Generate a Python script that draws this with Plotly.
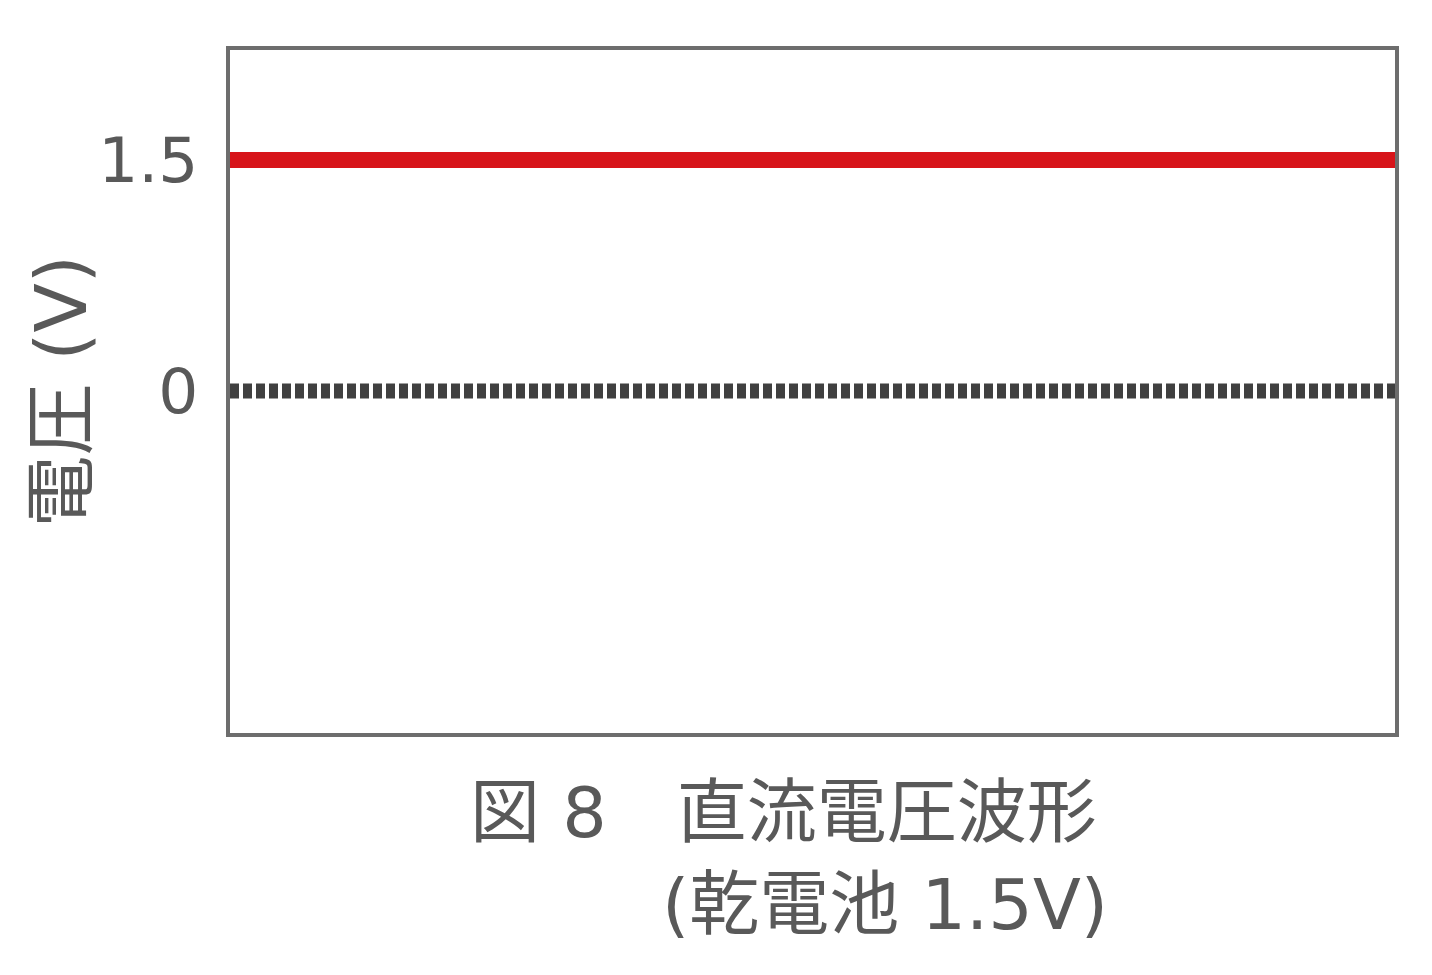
import plotly.graph_objects as go

# time axis (arbitrary units, no ticks shown)
t = [0, 10]
# dry cell output and the zero reference
dc_voltage = [1.5, 1.5]
zero_line = [0, 0]

y_ticks = [0, 1.5]
y_tick_text = ["0", "1.5"]

FONT = "DejaVu Sans, Noto Sans CJK JP"
GREY = "#595959"

fig = go.Figure()

fig.add_trace(go.Scatter(
    x=t, y=zero_line, mode="lines",
    line=dict(color="#404040", width=15, dash="9px,4px"),
    hoverinfo="skip",
))
fig.add_trace(go.Scatter(
    x=t, y=dc_voltage, mode="lines",
    line=dict(color="#D7141A", width=16),
))

fig.update_xaxes(
    range=[0, 10], showticklabels=False, showgrid=False, zeroline=False,
    showline=True, linecolor="#6d6d6d", linewidth=4, mirror=True,
)
fig.update_yaxes(
    range=[-2.221, 2.214], tickvals=y_ticks, ticktext=y_tick_text,
    tickfont=dict(family=FONT, size=63, color=GREY),
    ticklabelstandoff=15,
    showgrid=False, zeroline=False,
    showline=True, linecolor="#6d6d6d", linewidth=4, mirror=True,
)

# axis title and figure caption
fig.add_annotation(
    text="電圧 (V)", textangle=-90, xref="paper", yref="paper",
    x=-0.1459, y=0.5, xanchor="center", yanchor="middle", showarrow=False,
    font=dict(family=FONT, size=72, color=GREY),
)
fig.add_annotation(
    text="図 8　直流電圧波形", xref="paper", yref="paper",
    x=0.2043, y=-0.1171, xanchor="left", yanchor="middle", showarrow=False,
    font=dict(family=FONT, size=70, color=GREY),
)
fig.add_annotation(
    text="(乾電池 1.5V)", xref="paper", yref="paper",
    x=0.3691, y=-0.2518, xanchor="left", yanchor="middle", showarrow=False,
    font=dict(family=FONT, size=70, color=GREY),
)

fig.update_layout(
    width=1432, height=975,
    margin=dict(l=222, r=45, t=42, b=250),
    showlegend=False,
    plot_bgcolor="white", paper_bgcolor="white",
)

fig.write_html("out.html")
